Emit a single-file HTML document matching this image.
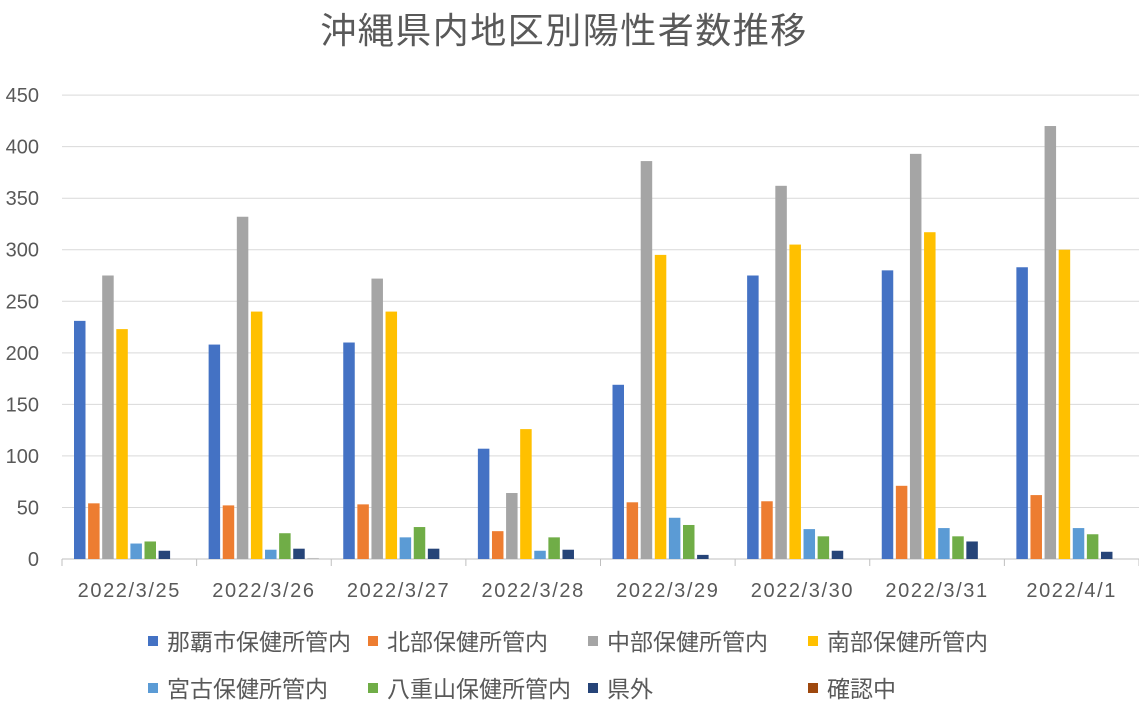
<!DOCTYPE html>
<html><head><meta charset="utf-8"><style>
html,body{margin:0;padding:0;background:#fff;}
svg text{font-family:"Liberation Sans","Noto Sans CJK JP",sans-serif;fill:#595959;}
</style></head><body>
<svg id="c" width="1139" height="713" xmlns="http://www.w3.org/2000/svg">
<rect width="1139" height="713" fill="#fff"/>
<text x="564" y="43" font-size="36" letter-spacing="1.5" text-anchor="middle">沖縄県内地区別陽性者数推移</text>
<g id="g"></g>
</svg>
<script>
var g=document.getElementById('g'),s='';
var y0=559,k=463.9/450;
for(var v=0;v<=450;v+=50){var y=y0-v*k;
 s+='<line x1="62" x2="1139" y1="'+y+'" y2="'+y+'" stroke="'+(v==0?'#bfbfbf':'#d9d9d9')+'" stroke-width="1"/>';
 s+='<text x="39" y="'+(y+7)+'" font-size="20" text-anchor="end">'+v+'</text>';}
var cw=(1139-62)/8;
for(var i=0;i<=8;i++){var x=62+i*cw;s+='<line x1="'+x+'" x2="'+x+'" y1="559" y2="566" stroke="#bfbfbf"/>';}
var cols=['#4472C4','#ED7D31','#A5A5A5','#FFC000','#5B9BD5','#70AD47','#264478','#9E480E'];
var d=[[231,54,275,223,15,17,8,0],[208,52,332,240,9,25,10,1],[210,53,272,240,21,31,10,0],[107,27,64,126,8,21,9,0],[169,55,386,295,40,33,4,0],[275,56,362,305,29,22,8,0],[280,71,393,317,30,22,17,0],[283,62,420,300,30,24,7,0]];
var lab=['2022/3/25','2022/3/26','2022/3/27','2022/3/28','2022/3/29','2022/3/30','2022/3/31','2022/4/1'];
for(var i=0;i<8;i++){var bx=62+i*cw+12;
 for(var j=0;j<8;j++){var h=d[i][j]*k;if(h>0)s+='<rect x="'+(bx+j*14.1)+'" y="'+(y0-h)+'" width="11.5" height="'+h+'" fill="'+(j==7?'#bfbfbf':cols[j])+'"/>';}
 s+='<text x="'+(62+i*cw+cw/2)+'" y="597" font-size="20" letter-spacing="1.6" text-anchor="middle">'+lab[i]+'</text>';}
var L=['那覇市保健所管内','北部保健所管内','中部保健所管内','南部保健所管内','宮古保健所管内','八重山保健所管内','県外','確認中'];
var lx=[148,368,588,808];
for(var j=0;j<8;j++){var x=lx[j%4],y=j<4?641:688;
 s+='<rect x="'+x+'" y="'+(y-5)+'" width="10" height="10" fill="'+cols[j]+'"/>';
 s+='<text x="'+(x+19)+'" y="'+(y+9)+'" font-size="23">'+L[j]+'</text>';}
g.innerHTML=s;
</script>
</body></html>
